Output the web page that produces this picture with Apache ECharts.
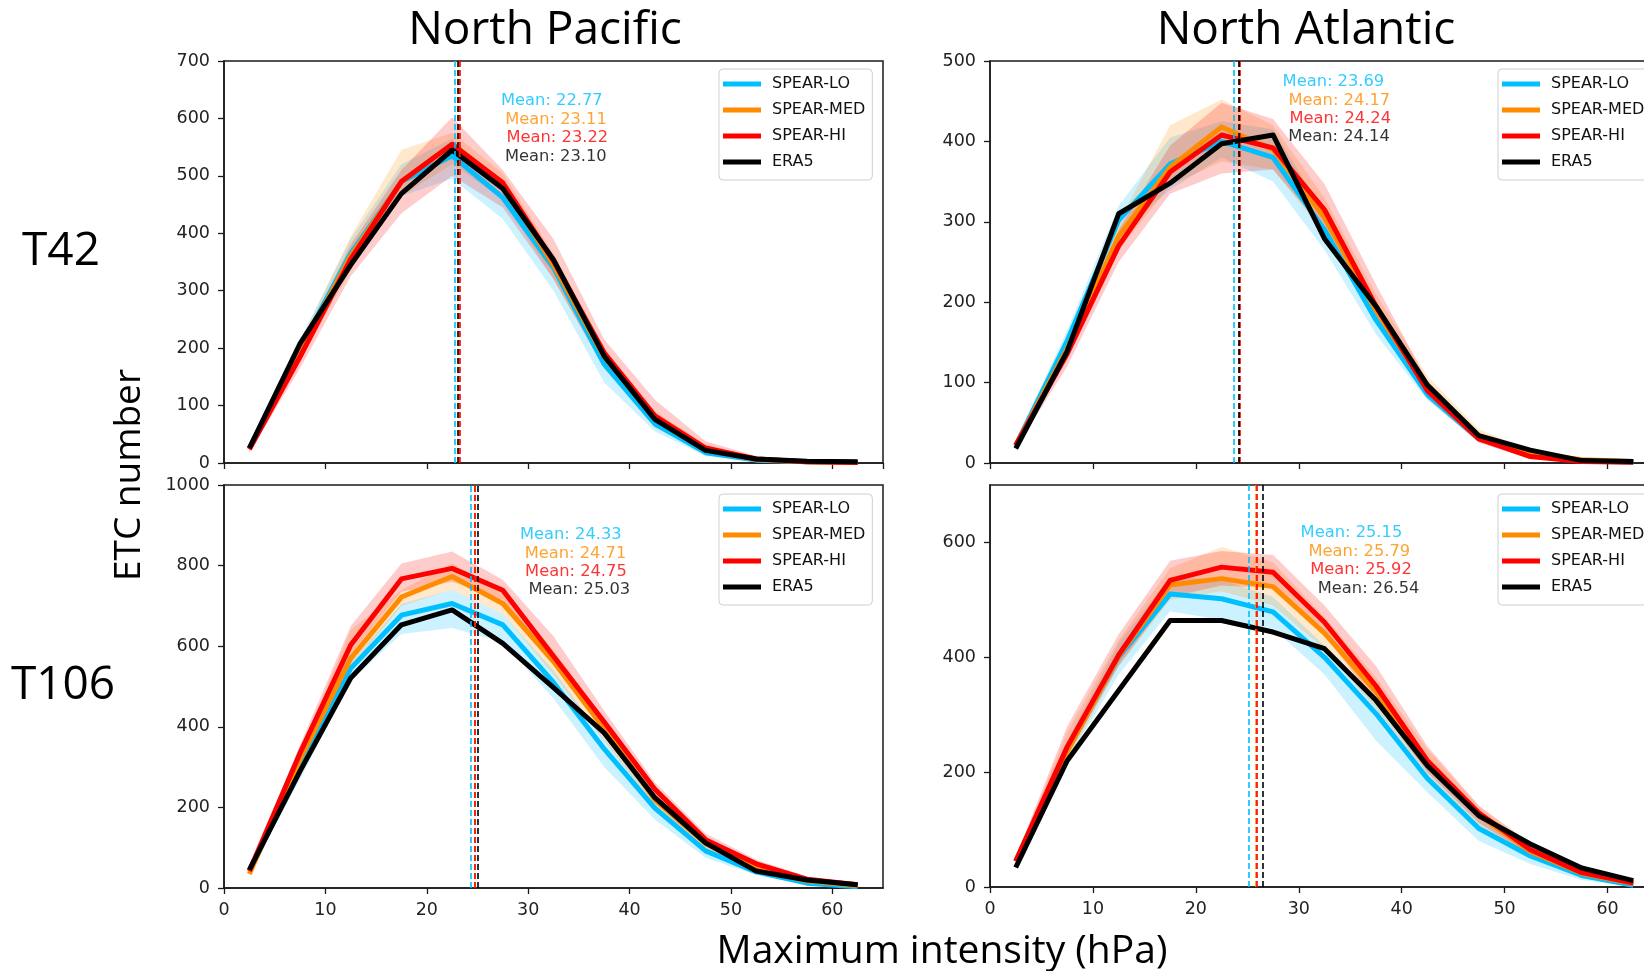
<!DOCTYPE html>
<html>
<head>
<meta charset="utf-8">
<script src="https://cdn.jsdelivr.net/npm/echarts@6/dist/echarts.min.js"></script>
<style>html,body{margin:0;padding:0;background:#fff;}#c{width:1644px;height:971px;}</style>
</head>
<body>
<div id="c"></div>
<script>
// ---------- DATA ----------
const xCenters = [2.5, 7.5, 12.5, 17.5, 22.5, 27.5, 32.5, 37.5, 42.5, 47.5, 52.5, 57.5, 62.5];
const seriesNames = ['SPEAR-LO', 'SPEAR-MED', 'SPEAR-HI', 'ERA5'];
const xTicks = [0, 10, 20, 30, 40, 50, 60];

// North Pacific, T42
const np42_lo   = [25, 200, 365, 490, 535, 462, 340, 172, 68, 18, 5, 2, 1];
const np42_med  = [25, 195, 360, 490, 555, 485, 345, 185, 78, 24, 6, 2, 1];
const np42_hi   = [24, 185, 355, 490, 555, 488, 352, 192, 82, 26, 7, 2, 1];
const np42_era5 = [26, 208, 345, 469, 545, 478, 354, 186, 76, 22, 7, 3, 2];
const np42_lo_band  = [[20,185,340,465,495,425,300,140,55,12,3,1,0], [30,215,390,520,565,480,355,185,80,25,8,3,2]];
const np42_med_band = [[20,180,335,465,520,460,320,165,65,18,4,1,0], [30,210,395,545,575,505,365,200,90,32,10,3,2]];
const np42_hi_band  = [[18,165,325,435,500,445,320,165,62,18,4,1,0], [30,200,380,510,602,510,390,215,110,38,12,4,2]];
const np42_means = [22.77, 23.11, 23.22, 23.10];

// North Atlantic, T42
const na42_lo   = [22, 152, 302, 372, 400, 380, 290, 178, 85, 30, 12, 3, 1];
const na42_med  = [22, 142, 282, 368, 418, 390, 305, 190, 92, 33, 12, 4, 2];
const na42_hi   = [22, 136, 270, 362, 408, 392, 315, 195, 90, 30, 8, 2, 1];
const na42_era5 = [18, 139, 310, 348, 397, 408, 279, 195, 97, 34, 16, 3, 2];
const na42_lo_band  = [[18,140,285,340,380,350,265,160,78,26,10,2,0], [26,165,320,405,425,415,310,195,95,35,15,5,2]];
const na42_med_band = [[18,130,265,345,375,365,285,175,85,30,10,3,1], [26,155,300,420,452,420,330,210,108,42,16,6,3]];
const na42_hi_band  = [[18,120,250,335,360,365,290,175,80,25,6,1,0], [26,150,290,395,448,428,347,222,102,38,12,4,2]];
const na42_means = [23.69, 24.17, 24.24, 24.14];

// North Pacific, T106
const np106_lo   = [42, 300, 545, 677, 706, 653, 510, 345, 198, 92, 40, 12, 3];
const np106_med  = [35, 320, 570, 722, 773, 706, 562, 395, 219, 110, 48, 18, 6];
const np106_hi   = [42, 335, 603, 767, 793, 739, 575, 412, 245, 120, 60, 22, 8];
const np106_era5 = [45, 290, 521, 653, 690, 607, 497, 385, 224, 112, 42, 20, 8];
const np106_lo_band  = [[38,270,515,630,645,610,470,300,170,75,32,8,1], [48,320,560,705,740,680,540,370,220,105,48,16,6]];
const np106_med_band = [[30,300,545,700,740,680,530,365,200,95,40,14,4], [42,340,640,740,805,740,590,420,240,125,58,22,9]];
const np106_hi_band  = [[36,315,580,735,760,715,555,390,228,108,50,16,5], [48,355,650,805,835,765,625,440,262,135,70,28,11]];
const np106_means = [24.33, 24.71, 24.75, 25.03];

// North Atlantic, T106
const na106_lo   = [45, 238, 400, 510, 502, 479, 400, 302, 189, 102, 54, 20, 3];
const na106_med  = [45, 236, 402, 526, 537, 523, 442, 340, 215, 125, 62, 24, 6];
const na106_hi   = [45, 244, 404, 534, 557, 548, 461, 350, 220, 129, 65, 25, 7];
const na106_era5 = [34, 220, 342, 464, 464, 444, 415, 325, 211, 124, 75, 33, 11];
const na106_lo_band  = [[40,220,370,480,465,450,370,255,165,80,40,12,1], [50,255,425,540,535,505,420,330,215,120,62,26,6]];
const na106_med_band = [[40,220,385,500,515,490,415,310,195,108,52,18,3], [50,270,430,555,592,565,470,365,240,140,72,30,9]];
const na106_hi_band  = [[40,230,385,505,525,520,440,320,200,112,55,18,4], [52,280,440,568,585,578,490,385,245,142,76,30,10]];
const na106_means = [25.15, 25.79, 25.92, 26.54];

// ---------- LAYOUT / STYLE ----------
const colors = ['#00bfff', '#ff8c00', '#ff0000', '#000000'];
const bandColors = ['rgba(0,191,255,0.2)', 'rgba(255,140,0,0.2)', 'rgba(255,0,0,0.2)'];
const FONT = 'DejaVu Sans';
const TFONT = '"Open Sans"';

const panels = [
  { lines: [np42_lo, np42_med, np42_hi, np42_era5], bands: [np42_lo_band, np42_med_band, np42_hi_band], means: np42_means,
    grid: {left: 224, top: 61, width: 659, height: 402}, yMax: 700, yInt: 100, xLabels: false, legend: {left: 719, top: 69}, textTop: 0.900 },
  { lines: [na42_lo, na42_med, na42_hi, na42_era5], bands: [na42_lo_band, na42_med_band, na42_hi_band], means: na42_means,
    grid: {left: 990, top: 61, width: 669, height: 402}, yMax: 500, yInt: 100, xLabels: false, legend: {left: 1498, top: 69}, textTop: 0.948 },
  { lines: [np106_lo, np106_med, np106_hi, np106_era5], bands: [np106_lo_band, np106_med_band, np106_hi_band], means: np106_means,
    grid: {left: 224, top: 485, width: 659, height: 403}, yMax: 1000, yInt: 200, xLabels: true, legend: {left: 719, top: 494}, textTop: 0.876 },
  { lines: [na106_lo, na106_med, na106_hi, na106_era5], bands: [na106_lo_band, na106_med_band, na106_hi_band], means: na106_means,
    grid: {left: 990, top: 485, width: 669, height: 402}, yMax: 700, yInt: 200, xLabels: true, legend: {left: 1498, top: 494}, textTop: 0.880 }
];
const textStepPx = 18.4;

const grids = [], xAxes = [], yAxes = [], legends = [], series = [];
const axisCol = '#1a1a1a';

panels.forEach((p, pi) => {
  grids.push(Object.assign({show: true, borderColor: axisCol, borderWidth: 1.5, backgroundColor: 'transparent',
    containLabel: false, outerBoundsMode: 'none'}, p.grid));
  xAxes.push({
    type: 'value', gridIndex: pi, min: 0, max: 65, interval: 10,
    axisLine: {show: true, onZero: false, lineStyle: {color: axisCol, width: 1.5}},
    axisTick: {show: true, inside: false, length: 6, lineStyle: {color: axisCol, width: 1.3}},
    axisLabel: {show: p.xLabels, showMaxLabel: false, margin: 13, fontFamily: FONT, fontSize: 17.5, color: '#222',
      formatter: v => (xTicks.indexOf(v) >= 0 ? String(v) : '')},
    splitLine: {show: false}
  });
  yAxes.push({
    type: 'value', gridIndex: pi, min: 0, max: p.yMax, interval: p.yInt,
    axisLine: {show: true, onZero: false, lineStyle: {color: axisCol, width: 1.5}},
    axisTick: {show: true, inside: false, length: 6, lineStyle: {color: axisCol, width: 1.3}},
    axisLabel: {show: true, showMaxLabel: (p.yMax % p.yInt === 0), margin: 14, fontFamily: FONT, fontSize: 17.5, color: '#222',
      formatter: v => String(v)},
    splitLine: {show: false}
  });
  legends.push({
    show: true, orient: 'vertical', left: p.legend.left, top: p.legend.top,
    data: seriesNames.map(n => ({name: n, icon: 'rect'})),
    itemWidth: 38, itemHeight: 5, itemGap: 10,
    padding: [7, 7, 10, 4],
    backgroundColor: '#ffffff', borderColor: '#cfcfcf', borderWidth: 1, borderRadius: 4,
    selectedMode: false,
    textStyle: {fontFamily: FONT, fontSize: 16, color: '#111', lineHeight: 16, padding: [0, 0, 0, 6]}
  });
  // bands
  p.bands.forEach((b, bi) => {
    const lower = b[0], upper = b[1];
    series.push({
      type: 'custom', name: 'band' + pi + '_' + bi, xAxisIndex: pi, yAxisIndex: pi, silent: true, z: 1,
      data: xCenters.map((x, i) => [x, lower[i], upper[i]]),
      encode: {x: 0, y: [1, 2]},
      renderItem: (params, api) => {
        if (params.dataIndex !== 0) return null;
        const pts = [];
        for (let i = 0; i < xCenters.length; i++) pts.push(api.coord([xCenters[i], upper[i]]));
        for (let i = xCenters.length - 1; i >= 0; i--) pts.push(api.coord([xCenters[i], lower[i]]));
        return {type: 'polygon', shape: {points: pts}, style: {fill: bandColors[bi], stroke: null}};
      }
    });
  });
  // lines
  p.lines.forEach((vals, li) => {
    series.push({
      type: 'line', name: seriesNames[li], xAxisIndex: pi, yAxisIndex: pi, z: 2 + li,
      data: xCenters.map((x, i) => [x, vals[i]]),
      symbol: 'none', silent: true,
      itemStyle: {color: colors[li]},
      lineStyle: {color: colors[li], width: 5, join: 'round', cap: 'butt'},
      markLine: {
        silent: true, symbol: ['none', 'none'], z: 10, animation: false,
        label: {show: false},
        lineStyle: {color: colors[li], type: [6, 3], width: 1.6},
        data: [{xAxis: p.means[li]}]
      }
    });
  });
  // mean labels
  const stepVal = textStepPx / p.grid.height * p.yMax;
  series.push({
    type: 'scatter', name: 'meanText' + pi, xAxisIndex: pi, yAxisIndex: pi, symbolSize: 0, silent: true, z: 12,
    data: p.means.map((m, k) => ({
      value: [m * 1.2, p.yMax * p.textTop - k * stepVal],
      label: {color: colors[k], formatter: 'Mean: ' + m.toFixed(2)}
    })),
    label: {show: true, position: 'right', distance: 0, fontFamily: FONT, fontSize: 16.3}
  });
});

const chart = echarts.init(document.getElementById('c'), null, {renderer: 'canvas'});
chart.setOption({
  animation: false,
  backgroundColor: '#ffffff',
  grid: grids, xAxis: xAxes, yAxis: yAxes, legend: legends, series: series,
  graphic: [
    {type: 'text', x: 545, y: 31, style: {text: 'North Pacific', font: '46px ' + TFONT, fill: '#000', textAlign: 'center', textVerticalAlign: 'middle'}},
    {type: 'text', x: 1306, y: 31, style: {text: 'North Atlantic', font: '46px ' + TFONT, fill: '#000', textAlign: 'center', textVerticalAlign: 'middle'}},
    {type: 'text', x: 61, y: 252, style: {text: 'T42', font: '46px ' + TFONT, fill: '#000', textAlign: 'center', textVerticalAlign: 'middle'}},
    {type: 'text', x: 63, y: 686, style: {text: 'T106', font: '46px ' + TFONT, fill: '#000', textAlign: 'center', textVerticalAlign: 'middle'}},
    {type: 'text', x: 129, y: 475, rotation: Math.PI / 2, style: {text: 'ETC number', font: '37px ' + TFONT, fill: '#000', textAlign: 'center', textVerticalAlign: 'middle'}},
    {type: 'text', x: 942, y: 952, style: {text: 'Maximum intensity (hPa)', font: '39px ' + TFONT, fill: '#000', textAlign: 'center', textVerticalAlign: 'middle'}}
  ]
});
</script>
</body>
</html>
